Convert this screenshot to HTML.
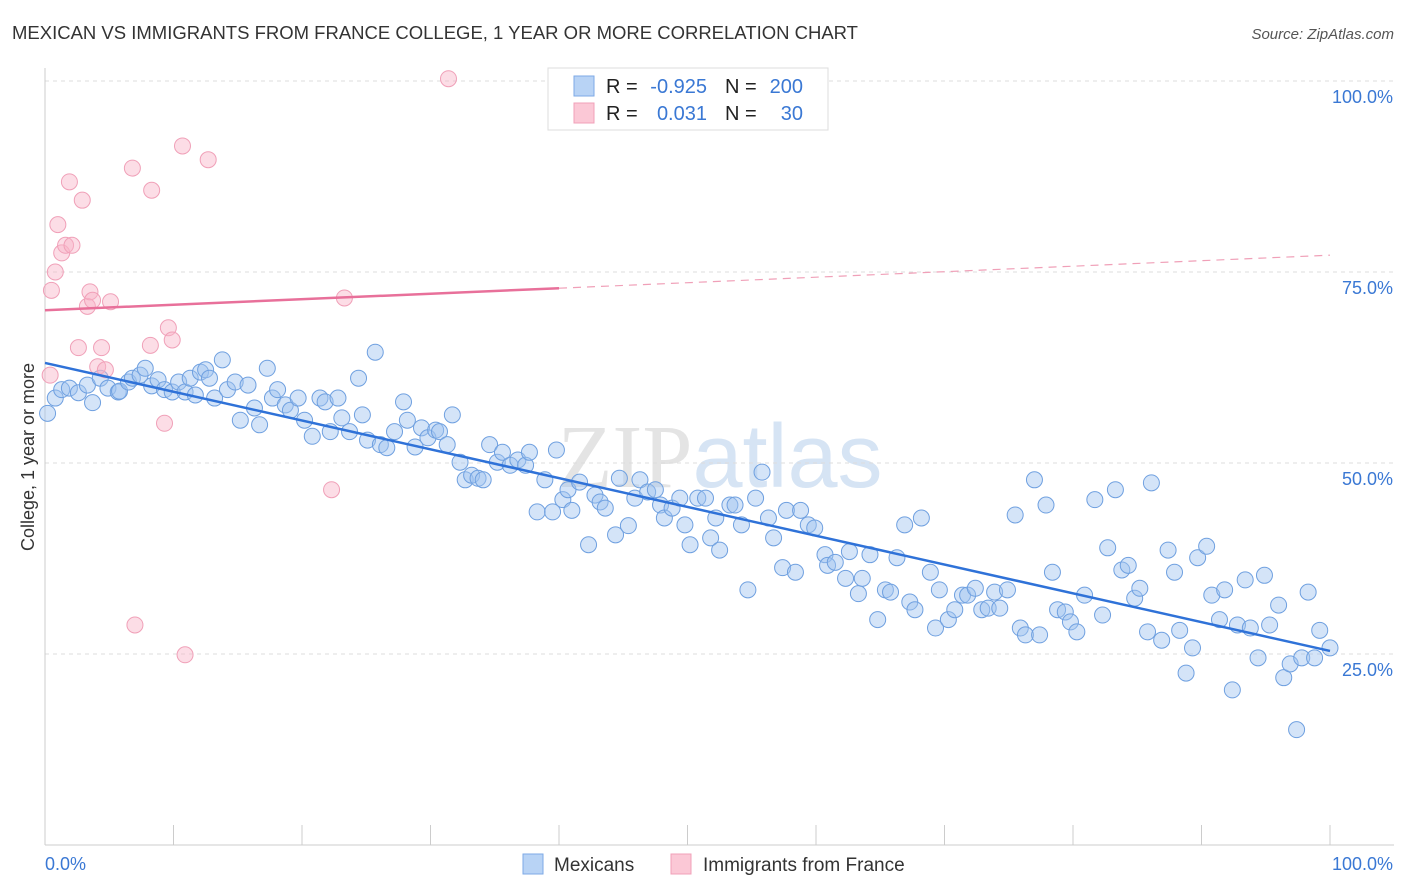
<!DOCTYPE html>
<html><head><meta charset="utf-8"><style>
body{margin:0;background:#fff;font-family:"Liberation Sans",sans-serif}
svg{display:block}
</style></head><body>
<svg id="c" width="1406" height="892">
<text x="12" y="39" font-size="18" fill="#333" textLength="846" lengthAdjust="spacingAndGlyphs">MEXICAN VS IMMIGRANTS FROM FRANCE COLLEGE, 1 YEAR OR MORE CORRELATION CHART</text>
<text x="1394" y="39" font-size="15" fill="#555" font-style="italic" text-anchor="end">Source: ZipAtlas.com</text>
<text x="720" y="487" font-size="90" fill="#e4e4e4" text-anchor="middle" font-family="Liberation Serif,serif">ZIP<tspan fill="#d6e4f4" font-family="Liberation Sans,sans-serif">atlas</tspan></text>
<text transform="translate(34,457) rotate(-90)" font-size="18" fill="#333" text-anchor="middle">College, 1 year or more</text>
<g id="grid"></g><g id="pts"></g><g id="lines"></g>
<g>
<rect x="548" y="68" width="280" height="62" fill="#fff" stroke="#ddd"/>
<rect x="574" y="76" width="20" height="20" fill="#b8d3f5" stroke="#7eaae6"/>
<rect x="574" y="103" width="20" height="20" fill="#fbc8d6" stroke="#f0a0b8"/>
<text x="606" y="93" font-size="20" fill="#222">R =</text>
<text x="707" y="93" font-size="20" fill="#3a78d4" text-anchor="end">-0.925</text>
<text x="725" y="93" font-size="20" fill="#222">N =</text>
<text x="803" y="93" font-size="20" fill="#3a78d4" text-anchor="end">200</text>
<text x="606" y="120" font-size="20" fill="#222">R =</text>
<text x="707" y="120" font-size="20" fill="#3a78d4" text-anchor="end">0.031</text>
<text x="725" y="120" font-size="20" fill="#222">N =</text>
<text x="803" y="120" font-size="20" fill="#3a78d4" text-anchor="end">30</text>
</g>
<g>
<rect x="523" y="854" width="20" height="20" fill="#b8d3f5" stroke="#7eaae6"/>
<text x="554" y="871" font-size="19" fill="#333">Mexicans</text>
<rect x="671" y="854" width="20" height="20" fill="#fbc8d6" stroke="#f0a0b8"/>
<text x="703" y="871" font-size="19" fill="#333">Immigrants from France</text>
</g>
</svg>
<script>
const yTicks=[25,50,75,100];
const xTickLabels=["0.0%","100.0%"];
const blueX=[0.2,0.8,1.3,1.9,2.6,3.3,3.7,4.3,4.9,5.7,5.8,6.5,6.8,7.4,7.8,8.3,8.8,9.3,9.9,10.4,10.9,11.3,11.7,12.1,12.5,12.8,13.2,13.8,14.2,14.8,15.2,15.8,16.3,16.7,17.3,17.7,18.1,18.7,19.1,19.7,20.2,20.8,21.4,21.8,22.2,22.8,23.1,23.7,24.4,24.7,25.1,25.7,26.1,26.6,27.2,27.9,28.2,28.8,29.3,29.8,30.4,30.7,31.3,31.7,32.3,32.7,33.2,33.7,34.1,34.6,35.2,35.6,36.2,36.8,37.4,37.7,38.3,38.9,39.5,39.8,40.3,40.7,41.0,41.6,42.3,42.8,43.2,43.6,44.4,44.7,45.4,45.9,46.3,46.9,47.5,47.9,48.2,48.8,49.4,49.8,50.2,50.8,51.4,51.8,52.2,52.5,53.3,53.7,54.2,54.7,55.3,55.8,56.3,56.7,57.4,57.7,58.4,58.8,59.4,59.9,60.7,60.9,61.5,62.3,62.6,63.3,63.6,64.2,64.8,65.4,65.8,66.3,66.9,67.3,67.7,68.2,68.9,69.3,69.6,70.3,70.8,71.4,71.8,72.4,72.9,73.4,73.9,74.3,74.9,75.5,75.9,76.3,77.0,77.4,77.9,78.4,78.8,79.4,79.8,80.3,80.9,81.7,82.3,82.7,83.3,83.8,84.3,84.8,85.2,85.8,86.1,86.9,87.4,87.9,88.3,88.8,89.3,89.7,90.4,90.8,91.4,91.8,92.4,92.8,93.4,93.8,94.4,94.9,95.3,96.0,96.4,96.9,97.4,97.8,98.3,98.8,99.2,100];
const blueY=[56.5,58.5,59.6,59.8,59.2,60.2,57.9,61.1,59.8,59.3,59.4,60.6,61.1,61.5,62.4,60.1,60.9,59.6,59.3,60.6,59.3,61.1,58.9,61.9,62.2,61.1,58.5,63.5,59.6,60.6,55.6,60.2,57.2,55.0,62.4,58.5,59.6,57.6,56.9,58.5,55.6,53.5,58.5,58.0,54.1,58.5,55.9,54.1,61.1,56.3,53.0,64.5,52.4,52.0,54.1,58.0,55.6,52.1,54.6,53.3,54.3,54.1,52.4,56.3,50.1,47.8,48.4,48.0,47.8,52.4,50.1,51.4,49.7,50.4,49.7,51.4,43.6,47.8,43.6,51.7,45.2,46.5,43.8,47.5,39.3,45.8,44.9,44.1,40.6,48.0,41.8,45.4,47.8,46.2,46.5,44.5,42.8,44.1,45.4,41.9,39.3,45.4,45.4,40.2,42.8,38.6,44.5,44.5,41.9,33.4,45.4,48.8,42.8,40.2,36.3,43.8,35.7,43.8,41.9,41.5,38.0,36.6,37.0,34.9,38.4,32.9,34.9,38.0,29.5,33.4,33.1,37.6,41.9,31.8,30.8,42.8,35.7,28.4,33.4,29.5,30.8,32.7,32.7,33.6,30.8,31.0,33.1,31.0,33.4,43.2,28.4,27.5,47.8,27.5,44.5,35.7,30.8,30.5,29.2,27.9,32.7,45.2,30.1,38.9,46.5,36.0,36.6,32.3,33.6,27.9,47.4,26.8,38.6,35.7,28.1,22.5,25.8,37.6,39.1,32.7,29.5,33.4,20.3,28.8,34.7,28.4,24.5,35.3,28.8,31.4,21.9,23.7,15.1,24.5,33.1,24.5,28.1,25.8];
const pinkX=[0.4,0.5,0.8,1.0,1.3,1.6,1.9,2.1,2.6,2.9,3.3,3.5,3.7,4.1,4.4,4.7,5.1,6.8,7.0,8.2,8.3,9.3,9.6,9.9,10.7,10.9,12.7,22.3,23.3,31.4];
const pinkY=[61.5,72.6,75.0,81.2,77.5,78.5,86.8,78.5,65.1,84.4,70.5,72.4,71.3,62.6,65.1,62.2,71.1,88.6,28.8,65.4,85.7,55.2,67.7,66.1,91.5,24.9,89.7,46.5,71.6,100.3];
const blueFit=[63.1,25.4];
const pinkFit=[70.0,77.2];
const pinkSolidEnd=40;

const NS="http://www.w3.org/2000/svg";
const X0=45,X1=1330,YB=845,YT=81;
const sx=v=>X0+(X1-X0)*v/100;
const sy=v=>YB-(YB-YT)*v/100;
function mk(tag,attrs,parent){const e=document.createElementNS(NS,tag);for(const k in attrs)e.setAttribute(k,attrs[k]);parent.appendChild(e);return e;}
const grid=document.getElementById('grid');
const gl=mk('line',{x1:X0,x2:1394,y1:YT,y2:YT,stroke:'#ddd','stroke-dasharray':'4,4'},grid);


yTicks.forEach(t=>{
  const l=mk('line',{x1:X0,x2:1394,y1:sy(t),y2:sy(t),stroke:'#ddd','stroke-dasharray':'4,4'},grid);
  
  
  const tx=mk('text',{x:1393,y:sy(t)+22,'font-size':18,fill:'#3a78d4','text-anchor':'end'},grid);
  tx.textContent=t.toFixed(1)+'%';
  
  
});
const ax=mk('line',{x1:X0,x2:1394,y1:YB,y2:YB,stroke:'#ccc'},grid);


const ay=mk('line',{x1:X0,x2:X0,y1:68,y2:YB,stroke:'#ccc'},grid);


for(let i=0;i<=10;i++){
  const t=mk('line',{x1:sx(i*10),x2:sx(i*10),y1:YB,y2:YB-(i==0?0:20),stroke:'#ccc'},grid);
  
  
}
[[0,'start',45],[1,'end',1393]].forEach(([i,a,x])=>{
  const t=mk('text',{x:x,y:870,'font-size':18,fill:'#3a78d4','text-anchor':a},grid);
  t.textContent=xTickLabels[i];
  
  
});
const pts=document.getElementById('pts');
blueX.forEach((v,i)=>{
  const c=mk('circle',{cx:sx(v),cy:sy(blueY[i]),r:8,fill:'rgba(160,196,240,0.45)',stroke:'#6fa0e0','stroke-width':1},pts);
  
  
});
pinkX.forEach((v,i)=>{
  const c=mk('circle',{cx:sx(v),cy:sy(pinkY[i]),r:8,fill:'rgba(248,180,200,0.45)',stroke:'#f0a0b8','stroke-width':1},pts);
  
  
});
const lines=document.getElementById('lines');
const bl=mk('line',{x1:sx(0),y1:sy(blueFit[0]),x2:sx(100),y2:sy(blueFit[1]),stroke:'#2f72d8','stroke-width':2.5},lines);


const pm=pinkFit[0]+(pinkFit[1]-pinkFit[0])*pinkSolidEnd/100;
const pl=mk('line',{x1:sx(0),y1:sy(pinkFit[0]),x2:sx(pinkSolidEnd),y2:sy(pm),stroke:'#e8709a','stroke-width':2.5},lines);


const pd=mk('line',{x1:sx(pinkSolidEnd),y1:sy(pm),x2:sx(100),y2:sy(pinkFit[1]),stroke:'#f0a0b8','stroke-width':1.2,'stroke-dasharray':'8,6'},lines);


</script>
</body></html>
